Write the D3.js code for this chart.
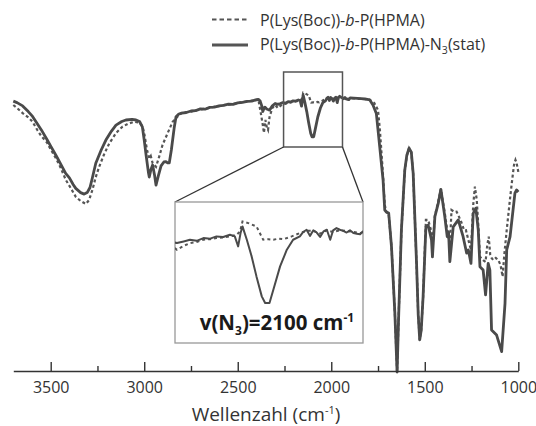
<!DOCTYPE html>
<html>
<head>
<meta charset="utf-8">
<script src="https://cdn.jsdelivr.net/npm/d3@7"></script>
<style>
  html, body { margin: 0; padding: 0; background: #fff; }
  svg { display: block; font-family: "Open Sans", Lato, sans-serif; }
</style>
</head>
<body>
<div id="chart"></div>
<script>
// IR spectra, transmission (arb. %)
const statWn = [3700,3680,3650,3620,3597,3570,3550,3520,3500,3470,3450,3420,3400,3380,3366,3340,3321,3305,3290,3280,3259,3230,3205,3175,3151,3120,3098,3065,3044,3025,3010,3000,2990,2978,2973,2965,2955,2945,2937,2925,2910,2895,2884,2875,2866,2855,2840,2830,2815,2800,2775,2750,2725,2700,2675,2650,2625,2600,2575,2550,2525,2500,2475,2450,2425,2400,2390,2380,2372,2366,2360,2355,2345,2338,2330,2315,2300,2286,2272,2259,2245,2231,2217,2204,2190,2176,2166,2159,2154,2150,2141,2131,2121,2110,2103,2094,2086,2072,2058,2045,2031,2024,2017,2010,2003,1996,1989,1982,1975,1968,1962,1955,1948,1941,1934,1927,1920,1913,1906,1899,1880,1860,1840,1820,1800,1794,1777,1759,1741,1723,1714,1705,1693,1678,1660,1648,1640,1625,1607,1596,1584,1572,1562,1544,1535,1527,1519,1509,1494,1482,1464,1459,1446,1428,1414,1393,1380,1373,1366,1348,1321,1295,1276,1267,1253,1241,1227,1214,1205,1188,1175,1161,1152,1143,1116,1089,1071,1062,1044,1018,1009,1000];
const statT = [90.3,89.8,88.7,86.8,85.2,82.6,80.7,77.5,75.3,72,69.7,66.2,64.7,62.5,61.2,59.8,59.3,59.8,61.5,64,69.6,74,77.3,80.3,82.3,83.5,84,84.2,84,83.5,81.7,77.3,72.3,66.7,65,67.3,69,65.7,62.3,65.3,68.7,70,70.1,69.7,69.7,74,81.3,85.1,86,86.3,86.5,87,87.1,87.7,87.6,88.2,88.3,88.7,88.9,89.3,89.2,89.7,89.9,90.2,90.3,90.8,90.9,90.3,88.8,86.8,87.8,88.3,87.7,87.5,87.3,88.7,89.5,89.2,89.5,89.8,89.6,90.1,90.0,90.4,90.3,90.7,90.4,88.6,91.0,92.2,89.8,86.8,83.2,79.6,78.4,78.4,80.8,85.0,88.0,89.8,90.4,91.2,91.6,90.5,91.5,91.1,90.3,91.3,91.6,89.8,91.5,91.9,91.6,91.4,91.1,91.5,91.0,90.9,90.8,91.4,91.3,91.2,91.1,91.0,90.8,90.7,89,86.2,75.1,64,54,53.3,53,41.8,19.7,0,18,47.3,67.3,72.3,74.6,73.3,66.2,36.2,19,10.7,14,25.1,48.4,49,44,38.4,51.8,56.2,60.9,51.8,45.1,46.7,36.8,48.4,50.7,45.1,39.6,40.7,36.2,52.9,54.6,47.3,35.1,34,25.7,36.2,34,14,12.3,6.8,22.9,40.7,45.1,59.6,60.7,60];

const refWn = [3700,3680,3650,3620,3597,3570,3550,3520,3508,3470,3450,3419,3390,3366,3340,3312,3295,3277,3260,3241,3215,3187,3150,3116,3085,3054,3026,3010,3000,2985,2973,2965,2955,2937,2920,2902,2875,2848,2813,2800,2775,2750,2725,2700,2675,2650,2625,2600,2575,2550,2525,2500,2475,2450,2425,2400,2390,2375,2366,2360,2352,2345,2338,2330,2315,2300,2286,2272,2259,2245,2231,2217,2204,2190,2176,2162,2155,2150,2138,2121,2107,2096,2086,2075,2065,2048,2031,2017,2003,1989,1975,1962,1948,1927,1906,1899,1880,1860,1840,1820,1800,1794,1770,1750,1740,1725,1714,1705,1693,1678,1660,1648,1640,1625,1607,1596,1584,1572,1562,1544,1535,1527,1519,1509,1494,1482,1464,1459,1446,1428,1414,1393,1380,1366,1357,1340,1330,1321,1305,1290,1280,1267,1253,1241,1232,1222,1214,1205,1188,1175,1166,1158,1150,1143,1134,1120,1107,1095,1084,1075,1062,1045,1035,1023,1015,1009,1000];
const refT = [89,88,86.3,84.9,83.4,80.5,78.6,76.5,75.1,71,68.5,64,61,58.4,57,56,57.3,60.7,64.8,68.4,72.5,76.2,79.7,81.8,82.8,83.4,83.1,82,79.6,74,71.2,72,69.6,68.4,71.8,75.7,79.6,83.4,85.7,86.3,86.6,86.8,87.3,87.5,87.8,88.0,88.5,88.6,89.0,89.1,89.4,89.6,90.0,90.1,90.5,90.6,90.9,85.7,82.3,79.7,84,81.7,80.7,85,88,89,88.0,88.7,89.2,89.4,89.8,89.9,90.1,90.2,90.4,90.7,91.3,93.1,92.8,92.2,89.8,89.9,89.8,90.0,89.9,90.4,91.0,91.4,91.4,90.9,91.5,91.2,91.5,91.3,91.0,91.2,91.2,91.1,91.0,91.0,90.8,90.7,89.7,87.3,80.7,67.3,55.7,53.3,52.7,42,19.7,0,18,47,67,72,74.6,73.2,66,36,19,10.7,14,25,50.7,50.7,46.7,40.7,52,57,61,53,47.3,42.3,54,53.3,53.4,52.3,50,47.3,47.3,44,40.7,55.7,61.8,57.3,49,38.4,37.3,36.7,42.3,45.1,39,38,37.3,38,37.3,35.7,31.8,39,47.3,57.3,62.9,69,70.7,69.7,66.7];

const majorTicks = [3500, 3000, 2500, 2000, 1500, 1000];
const minorTicks = [3250, 2750, 2250, 1750, 1250];

const width = 536, height = 426;
const axisY = 371;

const svg = d3.select('#chart').append('svg')
  .attr('width', width)
  .attr('height', height);

const x = d3.scaleLinear().domain([3700, 1000]).range([13.3, 518.3]);
const y = d3.scaleLinear().domain([0, 100]).range([372, 72]);

const statData = statWn.map((w, i) => [w, statT[i]]);
const refData = refWn.map((w, i) => [w, refT[i]]);

const line = d3.line().x(d => x(d[0])).y(d => y(d[1]));

// spectra
svg.append('path')
  .datum(refData)
  .attr('d', line)
  .attr('fill', 'none')
  .attr('stroke', '#555')
  .attr('stroke-width', 2.2)
  .attr('stroke-dasharray', '3,2.5');

svg.append('path')
  .datum(statData)
  .attr('d', line)
  .attr('fill', 'none')
  .attr('stroke', '#4a4a4a')
  .attr('stroke-width', 2.8)
  .attr('stroke-linejoin', 'round');

// x axis: major ticks with labels, minor ticks without
const axisG = svg.append('g').attr('transform', `translate(0,${axisY})`);
axisG.call(d3.axisBottom(x)
    .tickValues(majorTicks)
    .tickSize(-9)
    .tickSizeOuter(0)
    .tickPadding(11)
    .tickFormat(d3.format('d')))
  .call(g => {
    g.select('.domain').attr('stroke', '#333').attr('stroke-width', 1.6);
    g.selectAll('.tick line').attr('stroke', '#333').attr('stroke-width', 1.4);
    g.selectAll('.tick text')
      .attr('fill', '#333')
      .attr('font-size', '16px')
      .attr('font-family', '"Open Sans", sans-serif');
  });

axisG.append('g').call(d3.axisBottom(x)
    .tickValues(minorTicks)
    .tickSize(-5)
    .tickFormat(''))
  .call(g => {
    g.select('.domain').remove();
    g.selectAll('.tick line').attr('stroke', '#333').attr('stroke-width', 1.4);
  });

const xTitle = svg.append('text')
  .attr('x', 266)
  .attr('y', 421)
  .attr('text-anchor', 'middle')
  .attr('fill', '#333')
  .attr('font-size', '19px');
xTitle.append('tspan').text('Wellenzahl (cm');
xTitle.append('tspan').attr('font-size', '11px').attr('dy', -7).text('-1');
xTitle.append('tspan').attr('dy', 7).text(')');

// zoom box and inset
const insetDomain = [2255, 1940];
const box = {
  x0: x(insetDomain[0]), x1: x(insetDomain[1]),
  y0: y(100), y1: y(75)
};
const inset = { x0: 175, x1: 363, y0: 202, y1: 343 };

svg.append('rect')
  .attr('x', box.x0).attr('y', box.y0)
  .attr('width', box.x1 - box.x0).attr('height', box.y1 - box.y0)
  .attr('fill', 'none')
  .attr('stroke', '#555')
  .attr('stroke-width', 1.5);

svg.append('line')
  .attr('x1', box.x0).attr('y1', box.y1).attr('x2', inset.x0).attr('y2', inset.y0)
  .attr('stroke', '#333').attr('stroke-width', 1.3);
svg.append('line')
  .attr('x1', box.x1).attr('y1', box.y1).attr('x2', inset.x1).attr('y2', inset.y0)
  .attr('stroke', '#333').attr('stroke-width', 1.3);

svg.append('rect')
  .attr('x', inset.x0).attr('y', inset.y0)
  .attr('width', inset.x1 - inset.x0).attr('height', inset.y1 - inset.y0)
  .attr('fill', '#fff')
  .attr('stroke', '#999')
  .attr('stroke-width', 1.3);

svg.append('clipPath').attr('id', 'inset-clip')
  .append('rect')
  .attr('x', inset.x0).attr('y', inset.y0)
  .attr('width', inset.x1 - inset.x0).attr('height', inset.y1 - inset.y0);

const xi = d3.scaleLinear().domain([2290, 1900]).range([inset.x0, inset.x1]);
const yi = d3.scaleLinear().domain([71.2, 96.6]).range([inset.y1, inset.y0]);
const insetLine = d3.line().x(d => xi(d[0])).y(d => yi(d[1]));

const insetG = svg.append('g').attr('clip-path', 'url(#inset-clip)');
insetG.append('path')
  .datum(refData.filter(d => d[0] <= 2300 && d[0] >= 1890))
  .attr('d', insetLine)
  .attr('fill', 'none')
  .attr('stroke', '#555')
  .attr('stroke-width', 2)
  .attr('stroke-dasharray', '3,3');
insetG.append('path')
  .datum(statData.filter(d => d[0] <= 2300 && d[0] >= 1890))
  .attr('d', insetLine)
  .attr('fill', 'none')
  .attr('stroke', '#4a4a4a')
  .attr('stroke-width', 2)
  .attr('stroke-linejoin', 'round');

const insetLabel = svg.append('text')
  .attr('x', 277)
  .attr('y', 330)
  .attr('text-anchor', 'middle')
  .attr('fill', '#1a1a1a')
  .attr('font-size', '20.5px')
  .attr('font-weight', 'bold');
insetLabel.append('tspan').text('v(N');
insetLabel.append('tspan').attr('font-size', '12px').attr('dy', 5).text('3');
insetLabel.append('tspan').attr('dy', -5).text(')=2100 cm');
insetLabel.append('tspan').attr('font-size', '12px').attr('dy', -8).text('-1');

// legend
const legend = [
  { dash: '4.5,3', width: 2, y: 19.5, base: 26, sub: false },
  { dash: null, width: 2.8, y: 45, base: 50, sub: true }
];
legend.forEach(l => {
  svg.append('line')
    .attr('x1', 212).attr('x2', 248)
    .attr('y1', l.y).attr('y2', l.y)
    .attr('stroke', '#555')
    .attr('stroke-width', l.width)
    .attr('stroke-dasharray', l.dash);
  const t = svg.append('text')
    .attr('x', 260).attr('y', l.base)
    .attr('fill', '#333')
    .attr('font-size', '16px');
  t.append('tspan').text('P(Lys(Boc))-');
  t.append('tspan').attr('font-style', 'italic').text('b');
  t.append('tspan').text('-P(HPMA)');
  if (l.sub) {
    t.append('tspan').text('-N');
    t.append('tspan').attr('font-size', '10.5px').attr('dy', 4).text('3');
    t.append('tspan').attr('dy', -4).text('(stat)');
  }
});
</script>
</body>
</html>
